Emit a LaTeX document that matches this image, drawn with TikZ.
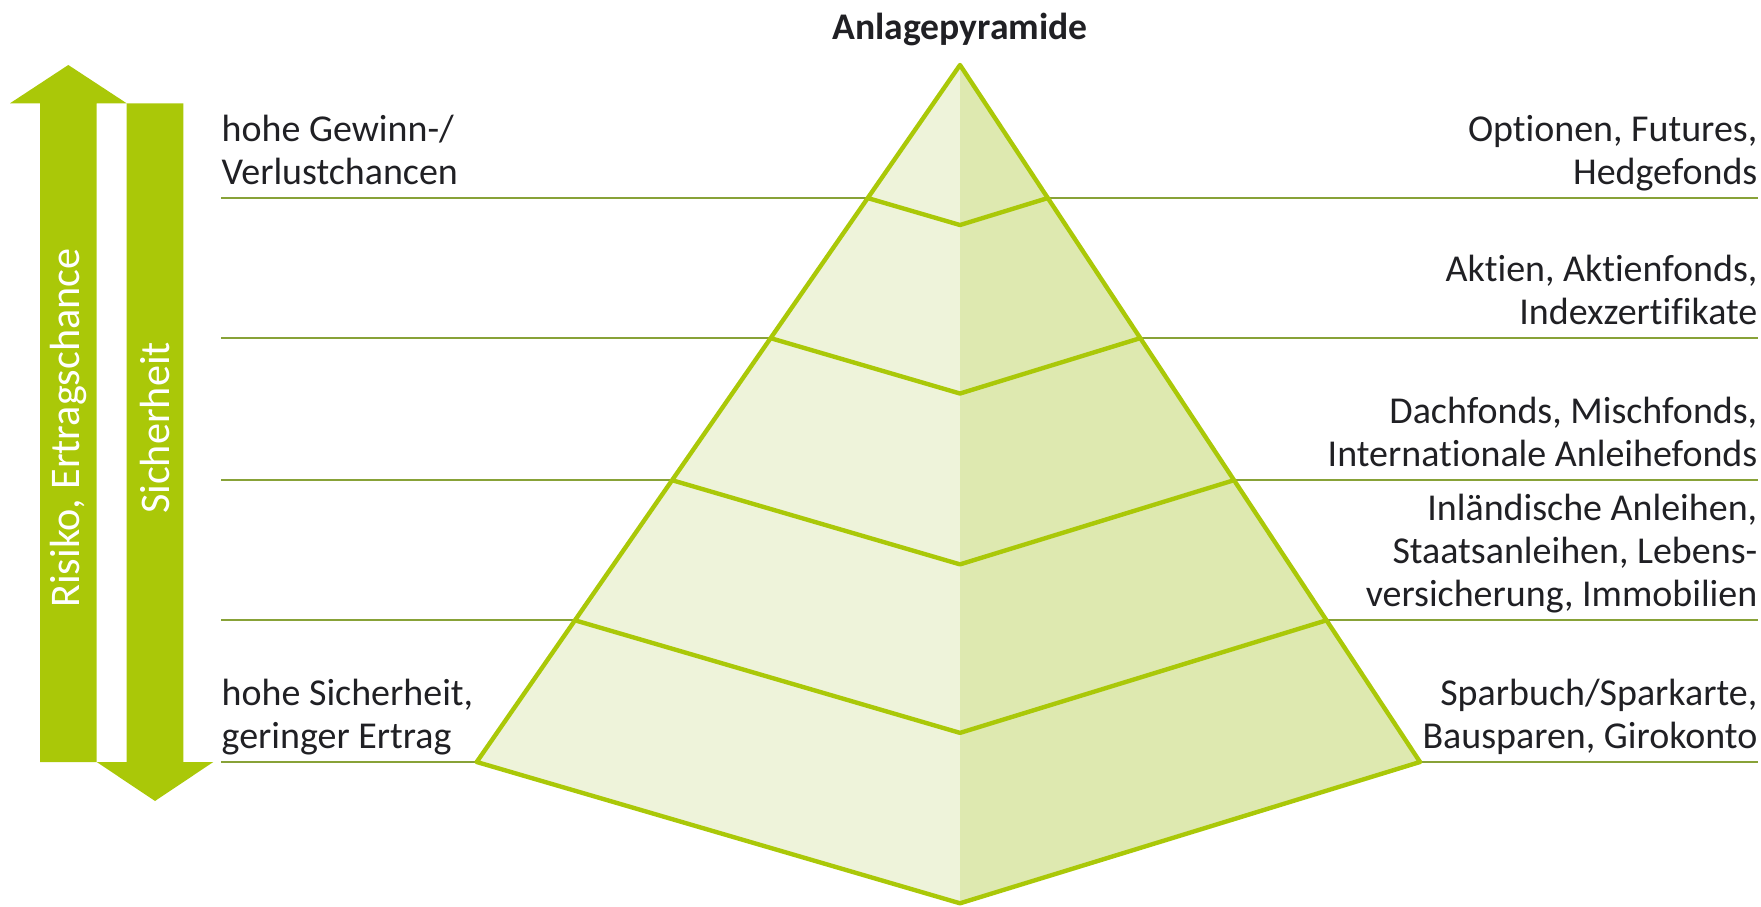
\documentclass[tikz,border=0pt]{standalone}
\usepackage{fontspec}
\setmainfont{Carlito}[Ligatures=NoCommon]
\usepackage{xcolor}
\usetikzlibrary{calc, positioning}
\definecolor{lime}{RGB}{170,200,8}
\definecolor{faceL}{RGB}{238,243,218}
\definecolor{faceR}{RGB}{222,233,176}
\definecolor{olive}{RGB}{136,162,56}
\definecolor{ink}{RGB}{32,32,36}

\begin{document}
\begin{tikzpicture}[x=0.01cm, y=-0.01cm,
    rule/.style={draw=olive, line width=0.55pt},
    edge/.style={draw=lime, line width=1.25pt, line join=round},
    lbl/.style={inner sep=0pt, text=ink, font=\fontsize{10.8}{12.3}\selectfont},
    barlbl/.style={rotate=90, inner sep=0pt, text=white, font=\fontsize{12}{14}\selectfont}]
  \useasboundingbox (0,0) rectangle (1761,907);
  \node[inner sep=0pt, anchor=base, text=ink, font=\bfseries\fontsize{10.7}{12}\selectfont] (title) at (960,40) {Anlagepyramide};
  \coordinate (apex) at (960,65); \coordinate (bl) at (476.7,762);
  \coordinate (br) at (1420,762); \coordinate (tip) at (960,903.3);
  \foreach \t/\n in {0.1909/1, 0.3919/2, 0.5957/3, 0.7967/4, 1/5} {
    \coordinate (pl\n) at ($(apex)!\t!(bl)$); \coordinate (pr\n) at ($(apex)!\t!(br)$);
    \coordinate (pm\n) at ($(apex)!\t!(tip)$);
    \coordinate (l\n) at (221,0 |- pl\n); \coordinate (r\n) at (1758,0 |- pl\n);
    \draw[rule] (l\n) -- (r\n);
  }
  \fill[faceL] (apex) -- (bl) -- (tip) -- cycle;
  \fill[faceR] (apex) -- (br) -- (tip) -- cycle;
  \draw[edge] (apex) -- (bl) -- (tip) -- (br) -- cycle;
  \foreach \n in {1,...,4} \draw[edge] (pl\n) -- (pm\n) -- (pr\n);
  \fill[lime] (40,762) -- (40,103.3) -- (10,103.3) -- (68.3,65) -- (126.7,103.3) -- (96.7,103.3) -- (96.7,762) -- cycle;
  \fill[lime] (126.7,103.3) -- (183.3,103.3) -- (183.3,762) -- (213.3,762) -- (155,801) -- (96.7,762) -- (126.7,762) -- cycle;
  \node[barlbl] (risk) at (68.3,428) {Risiko, Ertragschance};
  \node[barlbl] (safe) at (155,428) {Sicherheit};
  \node[lbl, align=left, anchor=south west] (high) at (l1) {hohe Gewinn-/\\Verlustchancen\strut};
  \node[lbl, align=left, anchor=south west] (low) at (l5) {hohe Sicherheit,\\geringer Ertrag\strut};
  \node[lbl, align=right, anchor=south east] (opt) at (r1) {Optionen, Futures,\\Hedgefonds\strut};
  \node[lbl, align=right, anchor=south east] (akt) at (r2) {Aktien, Aktienfonds,\\Indexzertifikate\strut};
  \node[lbl, align=right, anchor=south east] (dach) at (r3) {Dachfonds, Mischfonds,\\Internationale Anleihefonds\strut};
  \node[lbl, align=right, anchor=south east] (anl) at (r4) {Inländische Anleihen,\\Staatsanleihen, Lebens-\\versicherung, Immobilien\strut};
  \node[lbl, align=right, anchor=south east] (spar) at (r5) {Sparbuch/Sparkarte,\\Bausparen, Girokonto\strut};
\end{tikzpicture}
\end{document}
